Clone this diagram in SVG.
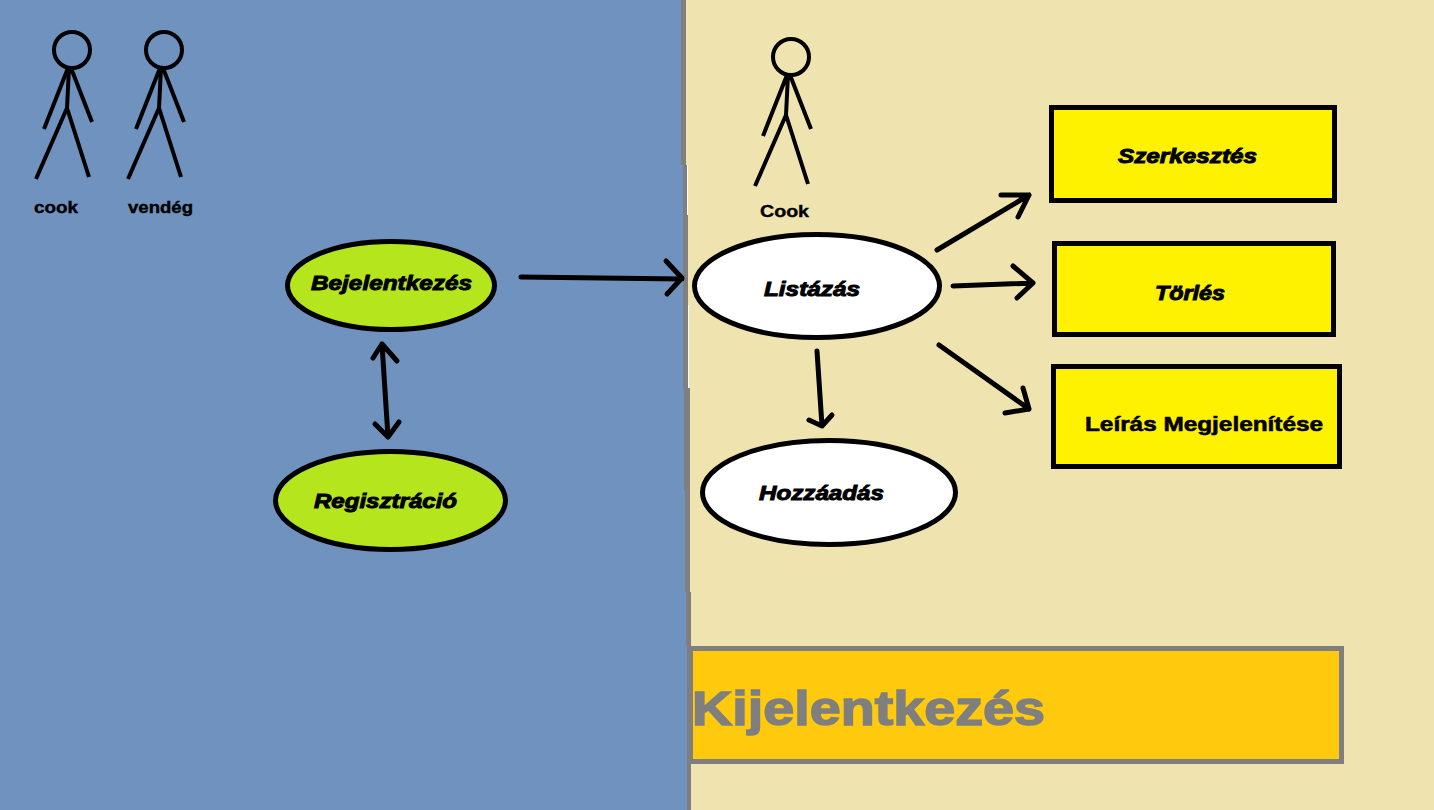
<svg xmlns="http://www.w3.org/2000/svg" width="1434" height="810" viewBox="0 0 1434 810">
<style>
.fig{fill:none;stroke:#000;stroke-width:4}
.node{stroke:#000;stroke-width:5}
.conn{fill:none;stroke:#000;stroke-width:5;stroke-linecap:round;stroke-linejoin:round}
text{font-family:"Liberation Sans",Arial,sans-serif;font-weight:bold;fill:#000}
.i{font-style:italic;font-size:21px;stroke:#000;stroke-width:1}
.l{font-size:17px;stroke:#000;stroke-width:.4}
</style>
<defs>
<g id="stick">
<circle cx="72" cy="50" r="18"/>
<path d="M69 68L67 108M68 68L44 129M71 68L92 122M67 108L36 179M67 108L89 177"/>
</g>
</defs>
<rect id="bg-left" width="700" height="810" fill="#7092be"/>
<path id="bg-right" d="M686 0H1434V810H690V388H686Z" fill="#efe4b0"/>
<path id="divider" d="M686 0V165H688V388H690V592H691V810H687V645H686V592H685V490H684V388H683V165H681V0Z" fill="#7f7f7f"/>
<path d="M687.500 165V215M688.500 305V388" fill="none" stroke="#fff" stroke-width="1"/>

<g id="actor-cook"><use href="#stick" class="fig"/><text class="l" x="34" y="213" textLength="44" lengthAdjust="spacingAndGlyphs">cook</text></g>
<g id="actor-vendeg"><use href="#stick" class="fig" x="92"/><text class="l" x="128" y="213" textLength="65" lengthAdjust="spacingAndGlyphs">vendég</text></g>
<g id="actor-cook2"><use href="#stick" class="fig" x="719" y="7"/><text class="l" x="760" y="217" textLength="49" lengthAdjust="spacingAndGlyphs">Cook</text></g>

<g id="bejelentkezes"><ellipse class="node" cx="391" cy="285.500" rx="103.500" ry="44" fill="#b5e61d"/><text class="i" x="311" y="290" textLength="161" lengthAdjust="spacingAndGlyphs">Bejelentkezés</text></g>
<g id="regisztracio"><ellipse class="node" cx="390.500" cy="500.500" rx="115" ry="49" fill="#b5e61d"/><text class="i" x="314" y="508" textLength="143" lengthAdjust="spacingAndGlyphs">Regisztráció</text></g>
<g id="listazas"><ellipse class="node" cx="817" cy="286" rx="122.500" ry="51.500" fill="#fff"/><text class="i" x="764" y="296" textLength="96" lengthAdjust="spacingAndGlyphs">Listázás</text></g>
<g id="hozzaadas"><ellipse class="node" cx="829" cy="492.500" rx="126.500" ry="52" fill="#fff"/><text class="i" x="759" y="500" textLength="125" lengthAdjust="spacingAndGlyphs">Hozzáadás</text></g>
<g id="szerkesztes"><rect class="node" x="1051.500" y="107.500" width="283" height="93" fill="#fff200"/><text class="i" x="1118" y="163" textLength="139" lengthAdjust="spacingAndGlyphs">Szerkesztés</text></g>
<g id="torles"><rect class="node" x="1054.500" y="243.500" width="279" height="91" fill="#fff200"/><text class="i" x="1155" y="300" textLength="70" lengthAdjust="spacingAndGlyphs">Törlés</text></g>
<g id="leiras"><rect class="node" x="1053.500" y="366.500" width="286" height="100" fill="#fff200"/><text x="1085" y="431" font-size="21" stroke="#000" stroke-width=".6" textLength="238" lengthAdjust="spacingAndGlyphs">Leírás Megjelenítése</text></g>
<g id="kijelentkezes"><rect x="690.500" y="648.500" width="651" height="113" fill="#ffc90e" stroke="#7f7f7f" stroke-width="5"/><text x="692" y="725" font-size="48" style="fill:#7f7f7f;stroke:#7f7f7f;stroke-width:1.500" textLength="353" lengthAdjust="spacingAndGlyphs">Kijelentkezés</text></g>

<g id="connectors" class="conn">
<path d="M521 277L682 279M666 261L682 278L667 294"/>
<path d="M382 344L388 437M373 358L382 344L397 361M375 424L388 437L399 422"/>
<path d="M937 250L1029 195M1001 195H1029L1018 217"/>
<path d="M953 286L1033 283M1013 266L1033 283L1017 298"/>
<path d="M939 345L1029 409M1023 388L1029 409L1005 413"/>
<path d="M817 351L822 426M809 420L822 426L832 415"/>
</g>
</svg>
